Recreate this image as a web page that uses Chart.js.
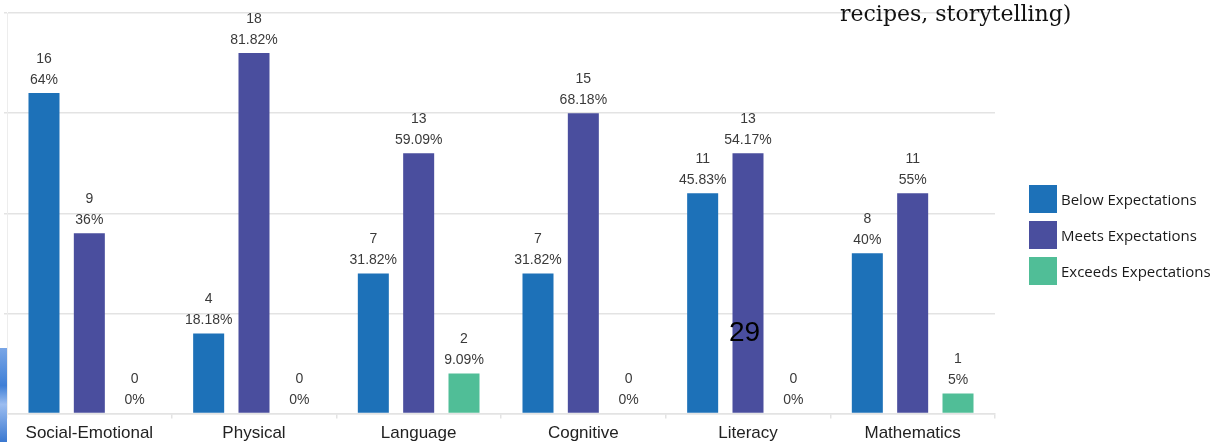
<!DOCTYPE html>
<html>
<head>
<meta charset="utf-8">
<script src="https://cdn.jsdelivr.net/npm/chart.js@4/dist/chart.umd.min.js"></script>
<style>
    html, body { margin: 0; padding: 0; background: #fff; }
    .page { position: relative; width: 1214px; height: 442px; overflow: hidden; }
    .chart-wrap { position: absolute; left: 0; top: 0; width: 1214px; height: 449px; }
    .legend { position: absolute; left: 1029px; top: 185px; font-family: "Open Sans", sans-serif; font-size: 15px; color: #1a1a1a; }
    .legend-item { display: flex; align-items: center; height: 28px; margin-bottom: 8px; }
    .legend-box { width: 28px; height: 28px; margin-right: 4px; }
    .caption { position: absolute; left: 840px; top: 1px; line-height: 26px; font-family: "DejaVu Serif", "Liberation Serif", serif; font-size: 22px; color: #111; white-space: nowrap; }
    .page-num { position: absolute; left: 729px; top: 316px; font-family: "Liberation Sans", Arial, sans-serif; font-size: 28px; color: #000; }
    .edge { position: absolute; left: 0; top: 348px; width: 7px; height: 94px; background: linear-gradient(180deg, #7aa6e6 0%, #3f7fd6 40%, #9cbdf0 60%, #3a78d0 100%); }
</style>
</head>
<body>
<div class="page">
    <div class="chart-wrap"><canvas id="barChart"></canvas></div>
    <div class="legend" id="legend"></div>
    <div class="caption">recipes, storytelling)</div>
    <div class="page-num">29</div>
    <div class="edge"></div>
</div>
<script>
    'use strict';

    var categories = ['Social-Emotional', 'Physical', 'Language', 'Cognitive', 'Literacy', 'Mathematics'];
    var seriesNames = ['Below Expectations', 'Meets Expectations', 'Exceeds Expectations'];
    var seriesColors = ['#1D71B8', '#4A4E9E', '#50BE97'];

    var belowCounts = [16, 4, 7, 7, 11, 8];
    var meetsCounts = [9, 18, 13, 15, 13, 11];
    var exceedsCounts = [0, 0, 2, 0, 0, 1];

    var belowPct = ['64%', '18.18%', '31.82%', '31.82%', '45.83%', '40%'];
    var meetsPct = ['36%', '81.82%', '59.09%', '68.18%', '54.17%', '55%'];
    var exceedsPct = ['0%', '0%', '9.09%', '0%', '0%', '5%'];

    var yTicks = [0, 5, 10, 15, 20];

    var counts = [belowCounts, meetsCounts, exceedsCounts];
    var pcts = [belowPct, meetsPct, exceedsPct];

    // Legend
    var legendEl = document.getElementById('legend');
    seriesNames.forEach(function (name, i) {
        var item = document.createElement('div');
        item.className = 'legend-item';
        var box = document.createElement('span');
        box.className = 'legend-box';
        box.style.background = seriesColors[i];
        var label = document.createElement('span');
        label.textContent = name;
        item.appendChild(box);
        item.appendChild(label);
        legendEl.appendChild(item);
    });

    // Count + percent above each bar
    var barLabels = {
        id: 'barLabels',
        afterDatasetsDraw: function (chart) {
            var ctx = chart.ctx;
            ctx.save();
            ctx.font = '14px "Liberation Sans", Arial, sans-serif';
            ctx.fillStyle = '#3a3a3a';
            ctx.textAlign = 'center';
            ctx.textBaseline = 'middle';
            chart.data.datasets.forEach(function (ds, di) {
                chart.getDatasetMeta(di).data.forEach(function (bar, i) {
                    ctx.fillText(String(counts[di][i]), bar.x, bar.y - 34);
                    ctx.fillText(pcts[di][i], bar.x, bar.y - 13);
                });
            });
            ctx.restore();
        }
    };

    new Chart(document.getElementById('barChart').getContext('2d'), {
        type: 'bar',
        data: {
            labels: categories,
            datasets: counts.map(function (values, i) {
                return {
                    label: seriesNames[i],
                    data: values,
                    backgroundColor: seriesColors[i],
                    borderWidth: 0,
                    categoryPercentage: 0.826,
                    barPercentage: 0.684
                };
            })
        },
        options: {
            responsive: true,
            maintainAspectRatio: false,
            animation: false,
            layout: { padding: { top: 13, left: 4, right: 219, bottom: 0 } },
            plugins: {
                legend: { display: false },
                tooltip: { enabled: false }
            },
            scales: {
                x: {
                    grid: { drawOnChartArea: false, tickLength: 5, color: '#e3e3e3', lineWidth: 1.5 },
                    border: { color: '#e3e3e3', width: 1.5 },
                    ticks: {
                        padding: 5,
                        color: '#222',
                        font: { family: '"Liberation Sans", Arial, sans-serif', size: 17 }
                    }
                },
                y: {
                    min: yTicks[0],
                    max: yTicks[yTicks.length - 1],
                    afterBuildTicks: function (axis) {
                        axis.ticks = yTicks.map(function (v) { return { value: v }; });
                    },
                    ticks: { display: false },
                    grid: { color: '#e3e3e3', lineWidth: 1.5, tickLength: 3 },
                    border: { color: '#ededed', width: 1 }
                }
            }
        },
        plugins: [barLabels]
    });
</script>
</body>
</html>
